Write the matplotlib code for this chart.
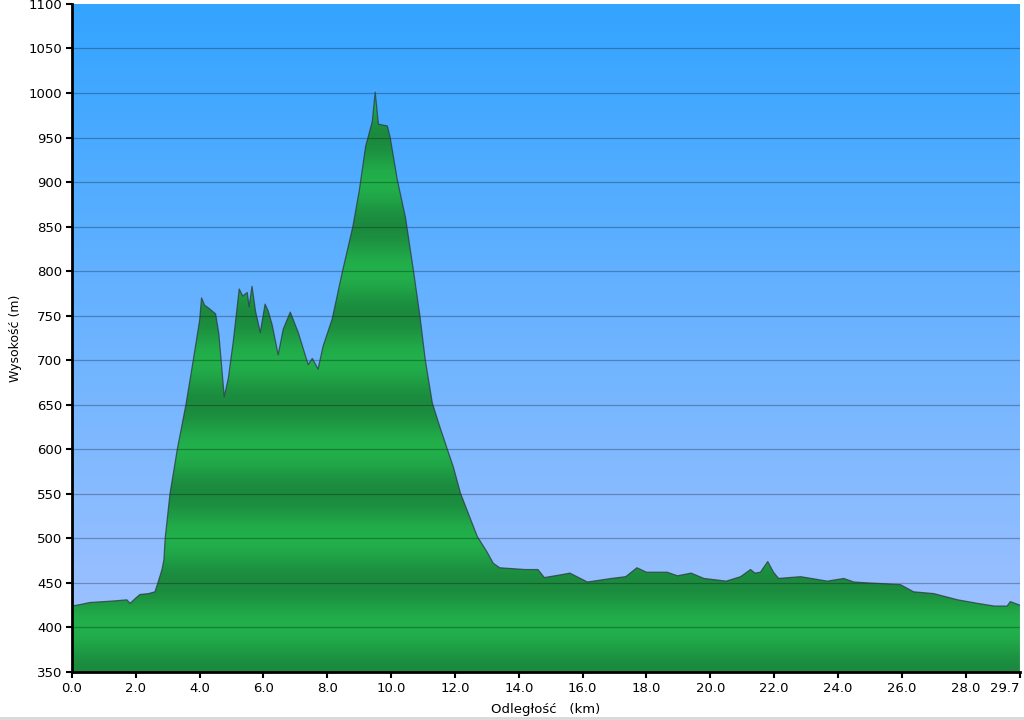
import matplotlib
matplotlib.use('Agg')
import matplotlib.pyplot as plt
from matplotlib.patches import Polygon
from matplotlib.colors import to_rgb
import numpy as np

# profil wysokości
dist_km = [0.0, 0.3, 0.56, 1.0, 1.4, 1.72, 1.82, 2.0, 2.13, 2.4, 2.6, 2.7, 2.82, 2.88,
           2.92, 3.07, 3.3, 3.57, 3.8, 4.0, 4.06, 4.15, 4.3, 4.5, 4.6, 4.77, 4.9,
           5.05, 5.24, 5.35, 5.49, 5.55, 5.64, 5.75, 5.9, 6.05, 6.15, 6.27, 6.46,
           6.62, 6.84, 7.09, 7.4, 7.53, 7.71, 7.87, 8.15, 8.47, 8.8, 9.0, 9.1,
           9.2, 9.41, 9.5, 9.6, 9.88, 9.97, 10.19, 10.45, 10.7, 10.9, 11.07, 11.29,
           11.5, 11.76, 11.95, 12.17, 12.45, 12.7, 13.0, 13.2, 13.4, 13.8, 14.2,
           14.6, 14.8, 15.3, 15.6, 16.15, 16.9, 17.35, 17.7, 18.0, 18.65, 18.97,
           19.4, 19.8, 20.5, 20.95, 21.26, 21.4, 21.57, 21.8, 21.98, 22.14, 22.83,
           23.67, 24.18, 24.5, 24.93, 25.5, 25.96, 26.37, 27.0, 27.75, 28.38, 28.9,
           29.3, 29.4, 29.7]
elev_m = [424, 426, 428, 429, 430, 431, 427, 433, 437, 438, 440, 451, 465, 476,
          500, 550, 600, 650, 700, 745, 770, 762, 758, 752, 730, 659, 680,
          720, 780, 772, 776, 760, 783, 755, 731, 763, 755, 740, 706,
          735, 754, 731, 695, 702, 690, 716, 746, 799, 850, 890, 915,
          940, 968, 1001, 965, 963, 950, 903, 860, 800, 750, 700, 652,
          628, 600, 580, 551, 525, 502, 485, 472, 467, 466, 465,
          465, 456, 459, 461, 451, 455, 457, 467, 462, 462, 458,
          461, 455, 452, 457, 465, 461, 462, 474, 462, 455, 457,
          452, 455, 451, 450, 449, 448, 440, 438, 431, 427, 424,
          424, 429, 425]

y_ticks = list(range(350, 1101, 50))
x_ticks = [0.0, 2.0, 4.0, 6.0, 8.0, 10.0, 12.0, 14.0, 16.0, 18.0, 20.0,
           22.0, 24.0, 26.0, 28.0, 29.7]

x_max = 29.7
y_min, y_max = 350, 1100

fig = plt.figure(figsize=(10.24, 7.2), dpi=100)
ax = fig.add_axes([0.0703, 0.0667, 0.9257, 0.9278])
ax.set_xlim(0, x_max)
ax.set_ylim(y_min, y_max)

# tło - gradient niebieski
top = np.array(to_rgb('#33a4ff'))
bot = np.array(to_rgb('#a6c3ff'))
t = np.linspace(0, 1, 400)[:, None]
bg = (top * (1 - t) + bot * t)[:, None, :]
ax.imshow(bg, extent=[0, x_max, y_min, y_max], aspect='auto',
          origin='upper', zorder=0, interpolation='bicubic')

# wypełnienie profilu - zielony gradient pasmowy
light = np.array(to_rgb('#22b04b'))
dark = np.array(to_rgb('#1b8a3e'))
e = np.linspace(y_max, y_min, 800)
s = (0.5 + 0.5 * np.cos(2 * np.pi * (e - 450) / 100))[:, None]
green = (light * (1 - s) + dark * s)[:, None, :]
im = ax.imshow(green, extent=[0, x_max, y_min, y_max], aspect='auto',
               origin='upper', zorder=1, interpolation='bicubic')
verts = [(dist_km[0], y_min)] + list(zip(dist_km, elev_m)) + [(dist_km[-1], y_min)]
poly = Polygon(verts, closed=True, facecolor='none', edgecolor='none')
ax.add_patch(poly)
im.set_clip_path(poly)

ax.plot(dist_km, elev_m, color='#2c3840', lw=0.9, alpha=0.75, zorder=3)

# linie siatki
for yv in y_ticks[1:-1]:
    ax.axhline(yv, color='black', lw=0.9, alpha=0.28, zorder=2)

ax.set_yticks(y_ticks)
ax.set_xticks(x_ticks)
ax.set_xticklabels([f'{v:.1f}' for v in x_ticks])
ax.get_xticklabels()[-1].set_horizontalalignment('right')
ax.tick_params(direction='out', length=4, width=1.5, labelsize=9.5,
               colors='black', pad=3)
for side in ['top', 'right']:
    ax.spines[side].set_visible(False)
for side in ['left', 'bottom']:
    ax.spines[side].set_linewidth(2)
    ax.spines[side].set_zorder(5)

ax.set_ylabel('Wysokość (m)', fontsize=9, labelpad=5)
ax.set_xlabel('Odległość   (km)', fontsize=9.5, labelpad=6)

# dolna szara linia
fig.add_artist(plt.Line2D([0, 1], [0.003, 0.003], color='#d8d8d8', lw=2,
                          transform=fig.transFigure))

fig.savefig('out.png', dpi=100, facecolor='white')
